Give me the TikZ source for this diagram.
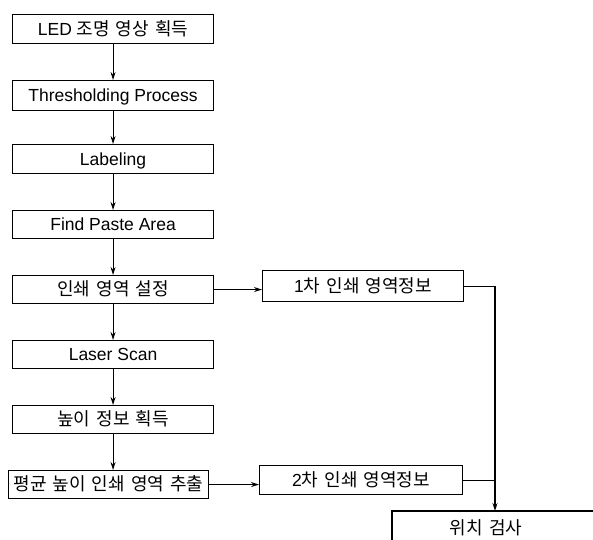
\documentclass[tikz,border=0pt]{standalone}
\usepackage{fontspec}
\setmainfont{Liberation Sans}
\newfontfamily\krfont{Noto Sans CJK KR}
\newcommand\kor[1]{{\krfont\fontsize{18}{22}\selectfont\fontdimen2\font=6pt\relax #1}}
\usetikzlibrary{arrows.meta}
\begin{document}
\begin{tikzpicture}[x=1pt,y=-1pt,
  box/.style={draw, line width=1.1pt, inner sep=0pt, anchor=north west,
    font=\fontsize{17.5}{20}\selectfont, text height=12.5pt, text depth=0pt},
  lbl/.style={inner sep=0pt, font=\fontsize{17.5}{20}\selectfont, text height=12.5pt, text depth=0pt},
  arr/.style={line width=1.1pt, -{Stealth[length=8pt,width=5pt]}},
  ln/.style={line width=1.1pt}]
\useasboundingbox (0,0) rectangle (593,539);
\clip (0,0) rectangle (593,539);
\node[box, minimum width=201pt, minimum height=29pt] (b1) at (12,14) {LED \kor{조명 영상 획득}};
\node[box, minimum width=201pt, minimum height=30pt] (b2) at (12,80) {Thresholding Process};
\node[box, minimum width=201pt, minimum height=29pt] (b3) at (12,144) {Labeling};
\node[box, minimum width=201pt, minimum height=28pt] (b4) at (12,210) {Find Paste Area};
\node[box, minimum width=201pt, minimum height=28pt] (b5) at (12,275) {\kor{인쇄 영역 설정}};
\node[box, minimum width=201pt, minimum height=28pt] (b6) at (12,340) {Laser Scan};
\node[box, minimum width=201pt, minimum height=28pt] (b7) at (12,405) {\kor{높이 정보 획득}};
\node[box, minimum width=200pt, minimum height=28pt] (b8) at (8,470) {\kor{평균 높이 인쇄 영역 추출}};
\node[box, minimum width=201pt, minimum height=31pt] (r1) at (262,270) {1\kor{차 인쇄 영역정보}};
\node[box, minimum width=203pt, minimum height=29pt] (r2) at (259,465) {2\kor{차 인쇄 영역정보}};
\node[lbl] (b9) at (486,528) {\kor{위치 검사}};
\draw[ln] (610,511) -- (392,511) -- (392,550);
\coordinate (jx) at (495,0);
\coordinate (tgt) at (495,511);
\draw[arr] (b1.south) -- (b2.north);
\draw[arr] (b2.south) -- (b3.north);
\draw[arr] (b3.south) -- (b4.north);
\draw[arr] (b4.south) -- (b5.north);
\draw[arr] (b5.south) -- (b6.north);
\draw[arr] (b6.south) -- (b7.north);
\draw[arr] (b7.south) -- (b7.south |- b8.north);
\draw[arr] (b5.east) -- (b5.east -| r1.west);
\draw[arr] (b8.east) -- (b8.east -| r2.west);
\draw[arr] (r1.east) -- (r1.east -| jx) -- (tgt);
\draw[ln] (r2.east) -- (r2.east -| jx);
\end{tikzpicture}
\end{document}
